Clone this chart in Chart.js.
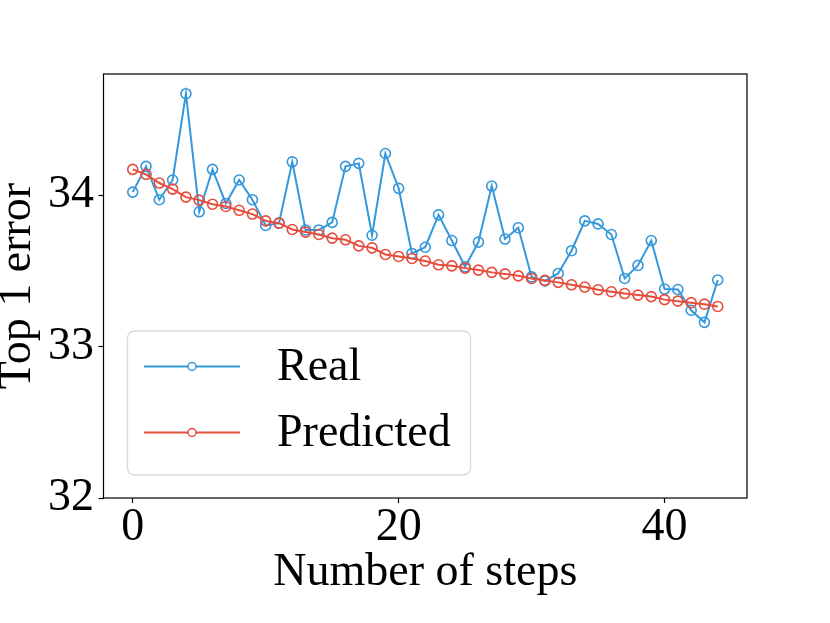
<!DOCTYPE html>
<html>
<head>
<meta charset="utf-8">
<script src="https://cdn.jsdelivr.net/npm/chart.js@4.4.0/dist/chart.umd.min.js"></script>
<style>
  html, body { margin: 0; padding: 0; background: #fff; }
</style>
</head>
<body>
<canvas id="my-chart" width="830" height="623"></canvas>
<script>
const steps = [0, 1, 2, 3, 4, 5, 6, 7, 8, 9, 10, 11, 12, 13, 14, 15, 16, 17, 18, 19, 20, 21,
  22, 23, 24, 25, 26, 27, 28, 29, 30, 31, 32, 33, 34, 35, 36, 37, 38, 39, 40, 41, 42, 43, 44];

const realError = [34.02, 34.19, 33.97, 34.10, 34.67, 33.89, 34.17, 33.945, 34.10, 33.97,
  33.80, 33.815, 34.22, 33.77, 33.77, 33.82, 34.19, 34.21, 33.735, 34.275,
  34.045, 33.615, 33.656, 33.87, 33.70, 33.527, 33.69, 34.06, 33.71, 33.785,
  33.46, 33.434, 33.483, 33.633, 33.83, 33.81, 33.74, 33.45, 33.536, 33.70,
  33.38, 33.377, 33.24, 33.16, 33.44];

const predictedError = [34.17, 34.137, 34.08, 34.04, 33.987, 33.967, 33.94, 33.925, 33.90, 33.875,
  33.83, 33.815, 33.773, 33.756, 33.74, 33.716, 33.705, 33.665, 33.652, 33.608,
  33.595, 33.582, 33.565, 33.54, 33.533, 33.518, 33.505, 33.49, 33.48, 33.467,
  33.45, 33.437, 33.424, 33.408, 33.393, 33.375, 33.362, 33.35, 33.34, 33.33,
  33.31, 33.30, 33.29, 33.28, 33.265];

const xTicks = [0, 20, 40];
const yTicks = [32, 33, 34];

const blue = 'rgb(52, 152, 219)';
const red = 'rgb(231, 76, 60)';

Chart.defaults.font.family = "'Liberation Serif', 'Times New Roman', serif";
Chart.defaults.color = '#000';

// black box round the plot area
const frame = {
  id: 'frame',
  beforeDatasetsDraw(chart) {
    const a = chart.chartArea;
    const ctx = chart.ctx;
    ctx.save();
    ctx.strokeStyle = '#000';
    ctx.lineWidth = 1.2;
    ctx.strokeRect(a.left, a.top, a.right - a.left, a.bottom - a.top);
    ctx.restore();
  }
};

// matplotlib-like legend box in the lower left
const boxLegend = {
  id: 'boxLegend',
  afterDraw(chart) {
    const ctx = chart.ctx;
    ctx.save();
    ctx.beginPath();
    ctx.roundRect(127.5, 331, 343, 144, 7);
    ctx.fillStyle = 'rgba(255,255,255,0.8)';
    ctx.fill();
    ctx.strokeStyle = '#d9d9d9';
    ctx.lineWidth = 1.3;
    ctx.stroke();
    chart.data.datasets.forEach((ds, i) => {
      const y = 366.5 + i * 66;
      ctx.strokeStyle = ds.borderColor;
      ctx.lineWidth = 2;
      ctx.beginPath();
      ctx.moveTo(144, y);
      ctx.lineTo(240, y);
      ctx.stroke();
      ctx.beginPath();
      ctx.arc(192, y, 4, 0, Math.PI * 2);
      ctx.fillStyle = '#fff';
      ctx.fill();
      ctx.lineWidth = 1.5;
      ctx.stroke();
      ctx.fillStyle = '#000';
      ctx.font = "46px 'Liberation Serif', 'Times New Roman', serif";
      ctx.textBaseline = 'middle';
      ctx.textAlign = 'left';
      ctx.fillText(ds.label, 277, y + 1);
    });
    ctx.restore();
  }
};

const ctx = document.getElementById('my-chart').getContext('2d');
new Chart(ctx, {
  type: 'line',
  data: {
    datasets: [
      {
        label: 'Real',
        data: steps.map((s, i) => ({ x: s, y: realError[i] })),
        borderColor: blue,
        backgroundColor: 'rgba(0,0,0,0)',
        pointBorderColor: blue,
        pointBackgroundColor: 'rgba(0,0,0,0)',
        borderWidth: 2,
        pointRadius: 5,
        pointBorderWidth: 1.6,
        tension: 0,
        order: 2
      },
      {
        label: 'Predicted',
        data: steps.map((s, i) => ({ x: s, y: predictedError[i] })),
        borderColor: red,
        backgroundColor: 'rgba(0,0,0,0)',
        pointBorderColor: red,
        pointBackgroundColor: 'rgba(0,0,0,0)',
        borderWidth: 2,
        pointRadius: 5,
        pointBorderWidth: 1.6,
        tension: 0,
        order: 1
      }
    ]
  },
  options: {
    responsive: false,
    animation: false,
    layout: { padding: { left: 0, top: 74, right: 83, bottom: 0 } },
    plugins: {
      legend: { display: false },
      tooltip: { enabled: false }
    },
    scales: {
      x: {
        type: 'linear',
        min: -2.2,
        max: 46.2,
        afterBuildTicks: s => { s.ticks = xTicks.map(v => ({ value: v })); },
        afterFit: s => { s.height = 125; },
        grid: { drawOnChartArea: false, tickLength: 5, tickColor: '#000', tickWidth: 1.2 },
        border: { display: false },
        ticks: { font: { size: 46, lineHeight: 1 }, padding: 2, maxRotation: 0 },
        title: {
          display: true,
          text: 'Number of steps',
          font: { size: 46, lineHeight: 1 },
          padding: { top: 0, bottom: 27 }
        }
      },
      y: {
        min: 32,
        max: 34.8,
        afterBuildTicks: s => { s.ticks = yTicks.map(v => ({ value: v })); },
        afterFit: s => { s.width = 103.5; },
        grid: { drawOnChartArea: false, tickLength: 5, tickColor: '#000', tickWidth: 1.2 },
        border: { display: false },
        ticks: { font: { size: 46, lineHeight: 1 }, padding: 4.5 },
        title: {
          display: true,
          text: 'Top 1 error',
          font: { size: 46, lineHeight: 1 },
          padding: { top: -5, bottom: 0 }
        }
      }
    }
  },
  plugins: [frame, boxLegend]
});
</script>
</body>
</html>
